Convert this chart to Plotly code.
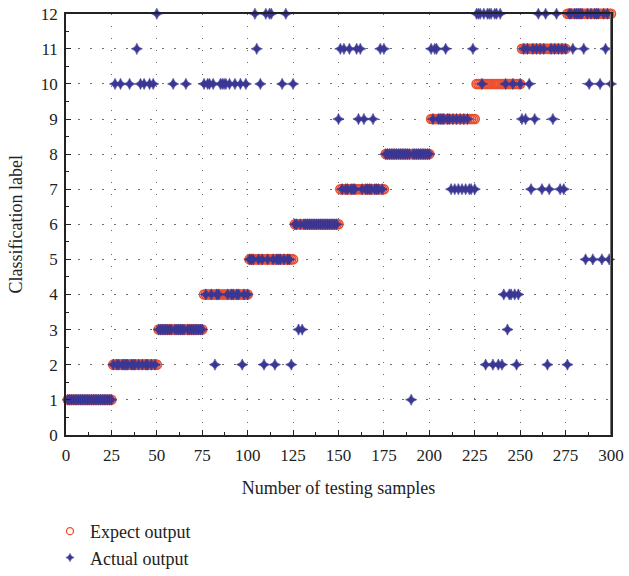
import plotly.graph_objects as go

# Test samples are numbered 1..300; each class occupies 25 consecutive samples
sample_index = list(range(1, 301))
expected_output = ([1] * 25 + [2] * 25 + [3] * 25 + [4] * 25 + [5] * 25 + [6] * 25
                   + [7] * 25 + [8] * 25 + [9] * 25 + [10] * 25 + [11] * 25 + [12] * 25)

# Samples whose predicted label differs from the expected one
wrong_samples = [27, 30, 35, 39, 41, 43, 46, 48, 50,
                 59, 66,
                 76, 78, 79, 81, 82, 85, 86, 87, 88, 90, 93, 96, 97, 99,
                 104, 105, 107, 109, 110, 112, 113, 115, 119, 121, 124, 125,
                 128, 130, 150,
                 151, 153, 156, 160, 161, 162, 164, 169, 173, 175,
                 190,
                 201, 203, 204, 209, 212, 214, 216, 218, 220, 222, 223, 224, 225,
                 226, 227, 228, 230, 231, 232, 233, 234, 235, 236, 237, 238, 239, 240,
                 241, 243, 244, 245, 247, 248, 249,
                 251, 253, 255, 256, 258, 260, 262, 264, 265, 266, 268, 270, 272, 274,
                 276, 279, 285, 286, 288, 290, 294, 295, 297, 299, 300]
wrong_labels = [10, 10, 10, 11, 10, 10, 10, 10, 12,
                10, 10,
                10, 10, 10, 10, 2, 10, 10, 10, 10, 10, 10, 10, 2, 10,
                12, 11, 10, 2, 12, 12, 12, 2, 10, 12, 2, 10,
                3, 3, 9,
                11, 11, 11, 11, 9, 11, 9, 9, 11, 11,
                1,
                11, 11, 11, 11, 7, 7, 7, 7, 7, 7, 7, 11, 7,
                12, 12, 12, 12, 2, 12, 12, 12, 2, 12, 12, 2, 12, 2,
                4, 3, 4, 4, 4, 2, 4,
                9, 9, 10, 7, 9, 12, 7, 12, 2, 7, 9, 12, 7, 7,
                2, 11, 11, 5, 10, 5, 10, 5, 11, 5, 10]

actual_output = list(expected_output)
for s, lab in zip(wrong_samples, wrong_labels):
    actual_output[s - 1] = lab

x_ticks = [0, 25, 50, 75, 100, 125, 150, 175, 200, 225, 250, 275, 300]
y_ticks = list(range(0, 13))

W, H = 629, 576
serif = "Liberation Serif, Times New Roman, serif"
red = "#EC4E2E"
blue = "#3A3794"
ink = "#222"

expect_marker = dict(symbol="circle-open", size=9, color=red, line=dict(width=1.6, color=red))
actual_marker = dict(symbol="star-diamond", size=8, color=blue, line=dict(width=0.6, color=blue))

fig = go.Figure()
fig.add_trace(go.Scatter(x=sample_index, y=expected_output, mode="markers",
                         cliponaxis=False, showlegend=False, marker=expect_marker))
fig.add_trace(go.Scatter(x=sample_index, y=actual_output, mode="markers",
                         cliponaxis=False, showlegend=False, marker=actual_marker))

# Legend entries with smaller key symbols
fig.add_trace(go.Scatter(x=[None], y=[None], mode="markers", name="Expect output",
                         marker=dict(symbol="circle-open", size=7, color=red,
                                     line=dict(width=1.3, color=red))))
fig.add_trace(go.Scatter(x=[None], y=[None], mode="markers", name="Actual output",
                         marker=dict(symbol="star-diamond", size=6, color=blue,
                                     line=dict(width=0.5, color=blue))))

axis_common = dict(gridcolor="#6f6f6f", gridwidth=1, griddash="1.5px,10.5px",
                   showline=True, linecolor=ink, linewidth=1.5, mirror=True,
                   zeroline=False, ticks="inside", ticklen=5, tickcolor=ink,
                   automargin=False,
                   tickfont=dict(family=serif, size=17, color=ink))

# Plot area placed directly through the axis domains (zero page margins)
fig.update_xaxes(range=[0, 300], tickvals=x_ticks, domain=[66 / W, 611 / W],
                 ticklabelstandoff=4,
                 title=dict(text="Number of testing samples",
                            font=dict(family=serif, size=18, color=ink), standoff=17),
                 minor=dict(ticks="inside", ticklen=3, dtick=12.5, tick0=0, tickcolor=ink,
                            showgrid=False),
                 **axis_common)
fig.update_yaxes(range=[0, 12], tickvals=y_ticks, domain=[1 - 442.5 / H, 1 - 14 / H],
                 ticklabelstandoff=3,
                 title=dict(text="Classification label",
                            font=dict(family=serif, size=18, color=ink), standoff=14),
                 minor=dict(ticks="inside", ticklen=3, dtick=0.5, tick0=0, tickcolor=ink,
                            showgrid=False),
                 **axis_common)

# Right-hand frame edge drawn in a lighter grey
fig.add_shape(type="line", xref="x", yref="y domain", x0=300, x1=300, y0=0, y1=1,
              line=dict(color="#777", width=2), layer="above")

fig.update_layout(
    width=W, height=H,
    margin=dict(l=0, r=0, t=0, b=0),
    plot_bgcolor="white", paper_bgcolor="white",
    font=dict(family=serif, size=17, color=ink),
    legend=dict(x=50 / W, y=1 - 522 / H, xanchor="left", yanchor="top",
                font=dict(family=serif, size=18, color=ink),
                bgcolor="rgba(0,0,0,0)", itemwidth=30, tracegroupgap=0),
)

fig.write_html("out.html")
